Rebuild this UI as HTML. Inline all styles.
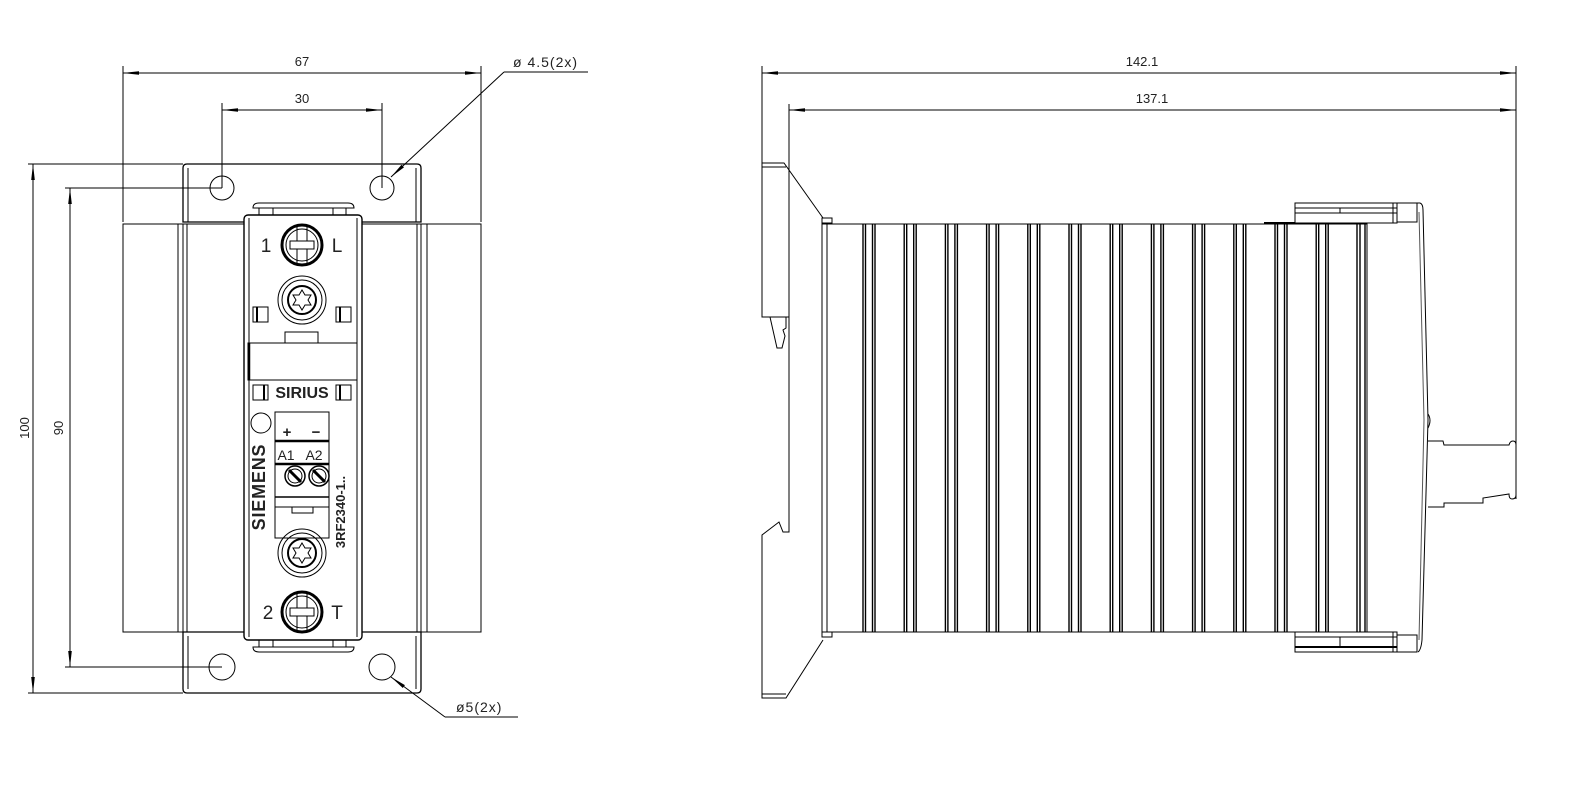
<!DOCTYPE html>
<html><head><meta charset="utf-8"><style>
html,body{margin:0;padding:0;background:#fff;}
svg{display:block;}
text{font-family:"Liberation Sans",sans-serif;fill:#222;}
</style></head><body>
<svg width="1594" height="787" viewBox="0 0 1594 787" xmlns="http://www.w3.org/2000/svg">
<defs>
<marker id="ah" markerWidth="16" markerHeight="6" refX="16" refY="3" orient="auto" markerUnits="userSpaceOnUse">
<path d="M0,1.2 L16,3 L0,4.8 Z" fill="#000"/></marker>
</defs>
<g stroke="#000" stroke-width="1" fill="none">
<!-- ===== LEFT VIEW dims ===== -->
<line x1="123" y1="66" x2="123" y2="222"/>
<line x1="481" y1="66" x2="481" y2="222"/>
<line x1="300" y1="73" x2="123" y2="73" marker-end="url(#ah)"/>
<line x1="300" y1="73" x2="481" y2="73" marker-end="url(#ah)"/>
<line x1="222" y1="103" x2="222" y2="188"/>
<line x1="382" y1="103" x2="382" y2="188"/>
<line x1="300" y1="110" x2="222" y2="110" marker-end="url(#ah)"/>
<line x1="300" y1="110" x2="382" y2="110" marker-end="url(#ah)"/>
<line x1="28" y1="164" x2="183" y2="164"/>
<line x1="28" y1="693" x2="183" y2="693"/>
<line x1="65" y1="188" x2="222" y2="188"/>
<line x1="65" y1="667" x2="222" y2="667"/>
<line x1="33" y1="428" x2="33" y2="164" marker-end="url(#ah)"/>
<line x1="33" y1="428" x2="33" y2="693" marker-end="url(#ah)"/>
<line x1="70" y1="428" x2="70" y2="188" marker-end="url(#ah)"/>
<line x1="70" y1="428" x2="70" y2="667" marker-end="url(#ah)"/>
<!-- leaders -->
<polyline points="588,72 504,72"/>
<line x1="504" y1="72" x2="391" y2="177" marker-end="url(#ah)"/>
<polyline points="518,717 445,717"/>
<line x1="445" y1="717" x2="391" y2="677" marker-end="url(#ah)"/>

<!-- heatsink -->
<rect x="123" y="224" width="358" height="408"/>
<line x1="178" y1="224" x2="178" y2="632"/><line x1="183" y1="224" x2="183" y2="632"/><line x1="187" y1="224" x2="187" y2="632"/>
<line x1="417" y1="224" x2="417" y2="632"/><line x1="421" y1="224" x2="421" y2="632"/><line x1="427" y1="224" x2="427" y2="632"/>
<!-- plates -->
<path d="M183,222 L183,168 Q183,164 187,164 L417,164 Q421,164 421,168 L421,222 Z" stroke-width="1.3"/>
<line x1="188" y1="168" x2="188" y2="222"/><line x1="416" y1="168" x2="416" y2="222"/>
<path d="M183,632 L183,689 Q183,693 187,693 L417,693 Q421,693 421,689 L421,632 Z" stroke-width="1.3"/>
<line x1="188" y1="636" x2="188" y2="689"/><line x1="416" y1="636" x2="416" y2="689"/>
<circle cx="222" cy="188" r="12"/><circle cx="382" cy="188" r="12"/>
<circle cx="222" cy="667" r="13"/><circle cx="382" cy="667" r="13"/>

<!-- module -->
<rect x="244" y="215" width="118" height="425" fill="#fff" stroke-width="1.4" rx="4"/>
<line x1="249" y1="218" x2="249" y2="637"/><line x1="357" y1="218" x2="357" y2="637"/>
<path d="M253,208 Q253,203 259,203 L348,203 Q354,203 354,208 Z" fill="#fff"/>
<path d="M259,208 L259,215 M273,208 L273,215 M333,208 L333,215 M346,208 L346,215"/>
<path d="M253,647 Q253,652 259,652 L348,652 Q354,652 354,647 Z" fill="#fff"/>
<path d="M259,640 L259,647 M273,640 L273,647 M333,640 L333,647 M346,640 L346,647"/>
<!-- screw 1 -->
<circle cx="302" cy="245" r="20" stroke-width="3"/><circle cx="302" cy="245" r="16"/>
<rect x="297" y="226" width="10" height="38"/><rect x="290" y="241" width="24" height="8" fill="#fff"/>
<!-- torx top -->
<circle cx="302" cy="300" r="24"/><circle cx="302" cy="300" r="20"/><circle cx="302" cy="300" r="14" stroke-width="2"/>
<path d="M302,290 L305,295 L311,295 L308,300 L311,305 L305,305 L302,310 L299,305 L293,305 L296,300 L293,295 L299,295 Z"/>
<rect x="253" y="307" width="15" height="15"/><line x1="257" y1="307" x2="257" y2="322" stroke-width="2"/>
<rect x="336" y="307" width="15" height="15"/><line x1="340" y1="307" x2="340" y2="322" stroke-width="2"/>
<rect x="285" y="332" width="33" height="11"/>
<rect x="248" y="343" width="109" height="37"/><line x1="249" y1="343" x2="249" y2="380" stroke-width="2.5"/>
<rect x="253" y="385" width="15" height="15"/><line x1="264" y1="385" x2="264" y2="400" stroke-width="2"/>
<rect x="336" y="385" width="15" height="15"/><line x1="340" y1="385" x2="340" y2="400" stroke-width="2"/>
<circle cx="261" cy="423" r="10"/>
<!-- terminal block -->
<rect x="275" y="412" width="54" height="126"/>
<line x1="275" y1="441" x2="329" y2="441" stroke-width="2.5"/>
<line x1="275" y1="464" x2="329" y2="464" stroke-width="2.5"/>
<line x1="275" y1="497" x2="329" y2="497" stroke-width="1.5"/>
<line x1="275" y1="507" x2="329" y2="507"/>
<rect x="292" y="507" width="21" height="6"/>
<circle cx="295" cy="476" r="10" stroke-width="1.5"/><circle cx="295" cy="476" r="7"/>
<line x1="289" y1="470" x2="301" y2="482" stroke-width="3"/>
<circle cx="319" cy="476" r="10" stroke-width="1.5"/><circle cx="319" cy="476" r="7"/>
<line x1="313" y1="470" x2="325" y2="482" stroke-width="3"/>
<!-- torx bottom -->
<circle cx="302" cy="553" r="24"/><circle cx="302" cy="553" r="20"/><circle cx="302" cy="553" r="14" stroke-width="2"/>
<path d="M302,543 L305,548 L311,548 L308,553 L311,558 L305,558 L302,563 L299,558 L293,558 L296,553 L293,548 L299,548 Z"/>
<!-- screw 2 -->
<circle cx="302" cy="612" r="20" stroke-width="3"/><circle cx="302" cy="612" r="16"/>
<rect x="297" y="593" width="10" height="38"/><rect x="290" y="608" width="24" height="8" fill="#fff"/>

<!-- ===== RIGHT VIEW ===== -->
<line x1="762" y1="66" x2="762" y2="163"/>
<line x1="789" y1="104" x2="789" y2="163"/>
<line x1="1516" y1="66" x2="1516" y2="499"/>
<line x1="1140" y1="73" x2="762" y2="73" marker-end="url(#ah)"/>
<line x1="1140" y1="73" x2="1516" y2="73" marker-end="url(#ah)"/>
<line x1="1150" y1="110" x2="789" y2="110" marker-end="url(#ah)"/>
<line x1="1150" y1="110" x2="1516" y2="110" marker-end="url(#ah)"/>
<!-- DIN clip -->
<path d="M762,163 L784,163 L823,218"/>
<line x1="762" y1="167" x2="786" y2="167"/>
<rect x="822" y="218" width="10" height="5"/>
<path d="M762,163 L762,317 L789,317 L789,163"/>
<path d="M770,317 L777,348 L782,348 L785,336 L783,330 L786,328 L786,317"/>
<path d="M789,317 L789,532 L783,532 L779,522 L762,535 L762,698 L786,698 L823,640"/>
<line x1="762" y1="694" x2="786" y2="694"/>
<rect x="822" y="632" width="10" height="5"/>
<!-- heatsink side -->
<rect x="822" y="224" width="545" height="408"/>
<line x1="827" y1="224" x2="827" y2="632"/>
<g id="fins">
<path d="M863,224V632 M865.5,224V632 M872.5,224V632 M875,224V632" stroke-width="1.4"/>
</g>
<use href="#fins" x="41.2"/><use href="#fins" x="82.4"/><use href="#fins" x="123.6"/><use href="#fins" x="164.8"/><use href="#fins" x="206"/><use href="#fins" x="247.2"/><use href="#fins" x="288.4"/><use href="#fins" x="329.6"/><use href="#fins" x="370.8"/><use href="#fins" x="412"/><use href="#fins" x="453.2"/>
<path d="M1357,224V632 M1360,224V632 M1365,224V632" stroke-width="1.4"/>
<line x1="1264" y1="223" x2="1295" y2="223" stroke-width="2"/>
<!-- top cap -->
<rect x="1295" y="203" width="102" height="20"/>
<line x1="1295" y1="208" x2="1397" y2="208"/><line x1="1295" y1="213" x2="1397" y2="213"/>
<line x1="1340" y1="208" x2="1340" y2="213"/><line x1="1393" y1="203" x2="1393" y2="223"/>
<rect x="1397" y="203" width="20" height="19"/>
<path d="M1417,203 L1420,203 Q1423,204 1423,210 L1428,420 L1422,640 Q1421,650 1418,652"/>
<path d="M1419,212 L1424,420 L1419,640" stroke="#555"/>
<!-- bottom cap -->
<rect x="1295" y="632" width="102" height="20"/>
<line x1="1295" y1="637" x2="1397" y2="637"/><line x1="1295" y1="647" x2="1397" y2="647" stroke-width="2"/>
<line x1="1340" y1="637" x2="1340" y2="647"/><line x1="1393" y1="632" x2="1393" y2="652"/>
<rect x="1397" y="635" width="20" height="17"/>
<!-- connector -->
<path d="M1428,414 Q1432,420 1428,428"/>
<path d="M1428,441 L1443,441 L1444,445 L1509,445 Q1510,441 1513,441 Q1516,441 1516,445 L1516,495 Q1516,499 1512,499 Q1509,499 1509,494 L1483,498 L1483,503 L1444,503 L1444,507 L1428,507"/>
</g>

<!-- text -->
<g font-size="13">
<text x="302" y="66" text-anchor="middle">67</text>
<text x="302" y="103" text-anchor="middle">30</text>
<text x="1142" y="66" text-anchor="middle">142.1</text>
<text x="1152" y="103" text-anchor="middle">137.1</text>
<text x="513" y="67" font-size="14" letter-spacing="1">ø 4.5(2x)</text>
<text x="456" y="712" font-size="14" letter-spacing="1">ø5(2x)</text>
<text transform="translate(29,428) rotate(-90)" text-anchor="middle">100</text>
<text transform="translate(63,428) rotate(-90)" text-anchor="middle">90</text>
</g>
<g fill="#333">
<text x="266" y="252" text-anchor="middle" font-size="19">1</text>
<text x="337" y="252" text-anchor="middle" font-size="19">L</text>
<text x="268" y="619" text-anchor="middle" font-size="19">2</text>
<text x="337" y="619" text-anchor="middle" font-size="19">T</text>
</g>
<text x="302" y="398" text-anchor="middle" font-size="16" font-weight="bold">SIRIUS</text>
<text x="287" y="437" text-anchor="middle" font-size="15" font-weight="bold">+</text>
<text x="316" y="437" text-anchor="middle" font-size="15" font-weight="bold">−</text>
<text x="286" y="460" text-anchor="middle" font-size="14">A1</text>
<text x="314" y="460" text-anchor="middle" font-size="14">A2</text>
<text transform="translate(265,487) rotate(-90)" text-anchor="middle" font-size="18" font-weight="bold" letter-spacing="0.8">SIEMENS</text>
<text transform="translate(345,512) rotate(-90)" text-anchor="middle" font-size="13" font-weight="bold">3RF2340-1..</text>
</svg>
</body></html>
